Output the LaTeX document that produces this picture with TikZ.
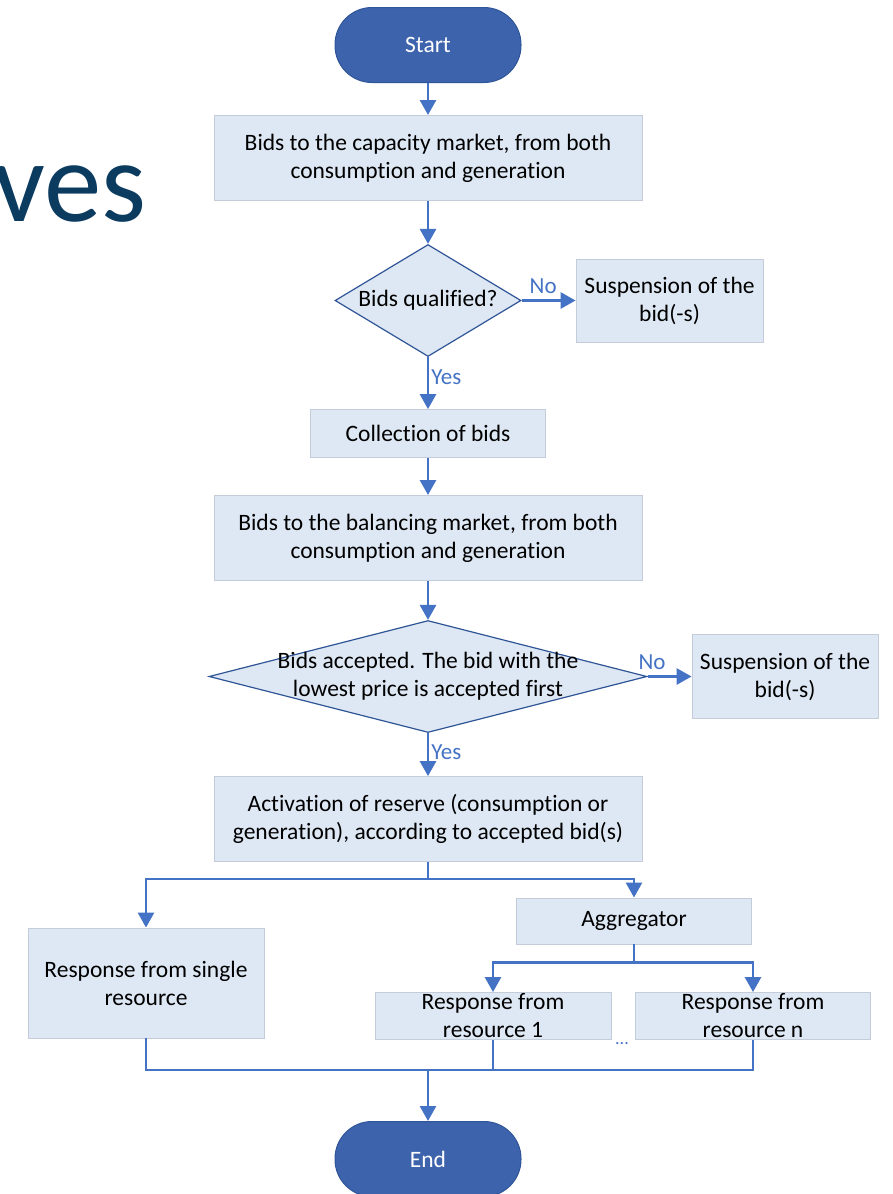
\documentclass[tikz,border=0pt]{standalone}
\usepackage{fontspec}
\setmainfont{Carlito}[Ligatures=NoCommon]
\usetikzlibrary{arrows.meta,positioning,calc,shapes.geometric}
\definecolor{boxfill}{HTML}{DEE8F4}
\definecolor{boxline}{HTML}{C3CCD8}
\definecolor{term}{HTML}{3E63AD}
\definecolor{termline}{HTML}{2F5597}
\definecolor{flow}{HTML}{4472C4}
\definecolor{title}{HTML}{0C3B60}
\tikzset{
  >={Triangle[width=16pt,length=15pt]},
  every node/.style={font=\fontsize{23.5}{28}\selectfont,text=black},
  box/.style={draw=boxline,line width=0.9pt,fill=boxfill,align=center,inner sep=0pt},
  termbox/.style={draw=termline,line width=1pt,fill=term,rounded corners=37pt,minimum width=186pt,minimum height=75pt,text=white},
  decbox/.style={diamond,draw=termline,line width=1.2pt,fill=boxfill,inner sep=0pt},
  dectext/.style={align=center,inner sep=0pt},
  arrow/.style={->,line width=2.8pt,draw=flow},
  line/.style={line width=2.8pt,draw=flow},
  yesno/.style={font=\fontsize{23}{26}\selectfont,text=flow,inner sep=2pt},
}
\begin{document}
\begin{tikzpicture}[x=1pt,y=1pt]
\useasboundingbox (0,0) rectangle (892,-1194);

\node[anchor=base east,inner sep=0pt,text=title,font=\fontsize{115}{120}\selectfont] (heading) at (147,-221) {ves};

\node[termbox] (start) at (428,-45) {Start};
\node[box,minimum width=428pt,minimum height=85pt,below=32pt of start] (capbid) {Bids to the capacity market, from both\\consumption and generation};
\node[decbox,minimum width=186pt,minimum height=112pt,below=43pt of capbid,label={[dectext]center:{Bids qualified?}}] (qual) {};
\node[box,minimum width=187pt,minimum height=83pt,right=54pt of qual] (susp1) {Suspension of the\\bid(-s)};
\node[box,minimum width=235pt,minimum height=48pt,below=52pt of qual] (collect) {Collection of bids};
\node[box,minimum width=428pt,minimum height=85pt,below=37pt of collect] (balbid) {Bids to the balancing market, from both\\consumption and generation};
\node[decbox,minimum width=438pt,minimum height=112pt,below=39pt of balbid,label={[dectext]center:{Bids accepted. The bid with the\\lowest price is accepted first}}] (accept) {};
\node[box,minimum width=186pt,minimum height=84pt,right=44pt of accept] (susp2) {Suspension of the\\bid(-s)};
\node[box,minimum width=428pt,minimum height=85pt,below=43pt of accept] (activ) {Activation of reserve (consumption or\\generation), according to accepted bid(s)};

\node[box,minimum width=236pt,minimum height=110pt] (single) at (146,-983) {Response from single\\resource};
\node[box,minimum width=235pt,minimum height=46pt] (aggr) at (634,-921) {Aggregator};
\node[box,minimum width=236pt,minimum height=47pt] (res1) at (493,-1016) {Response from\\resource 1};
\node[box,minimum width=235pt,minimum height=47pt] (resn) at (753,-1016) {Response from\\resource n};
\node[text=flow,font=\fontsize{18}{20}\selectfont] (dots) at (622,-1044) {...};
\node[termbox] (end) at (428,-1159) {End};

\draw[arrow] (start) -- (capbid);
\draw[arrow] (capbid) -- (qual);
\draw[arrow] (qual) -- node[yesno,pos=0.4,above=3pt]{No} (susp1);
\draw[arrow] (qual) -- node[yesno,pos=0.38,right]{Yes} (collect);
\draw[arrow] (collect) -- (balbid);
\draw[arrow] (balbid) -- (accept);
\draw[arrow] (accept) -- node[yesno,pos=0.1,above=3pt]{No} (susp2);
\draw[arrow] (accept) -- node[yesno,pos=0.44,right]{Yes} (activ);

% split to the two responses
\coordinate (split) at ($(activ.south)+(0,-17)$);
\draw[line] (activ) -- (split);
\draw[arrow] (split) -| (single);
\draw[arrow] (split) -| (aggr);
\coordinate (asplit) at ($(aggr.south)+(0,-18)$);
\draw[line] (aggr) -- (asplit);
\draw[arrow] (asplit) -| (res1);
\draw[arrow] (asplit) -| (resn);

% merge to end
\coordinate (merge) at ($(activ.south)+(0,-208)$);
\draw[line] (single) |- (merge) -| (resn);
\draw[line] (res1) -- (res1 |- merge);
\draw[arrow] (merge) -- (end);

\end{tikzpicture}
\end{document}
